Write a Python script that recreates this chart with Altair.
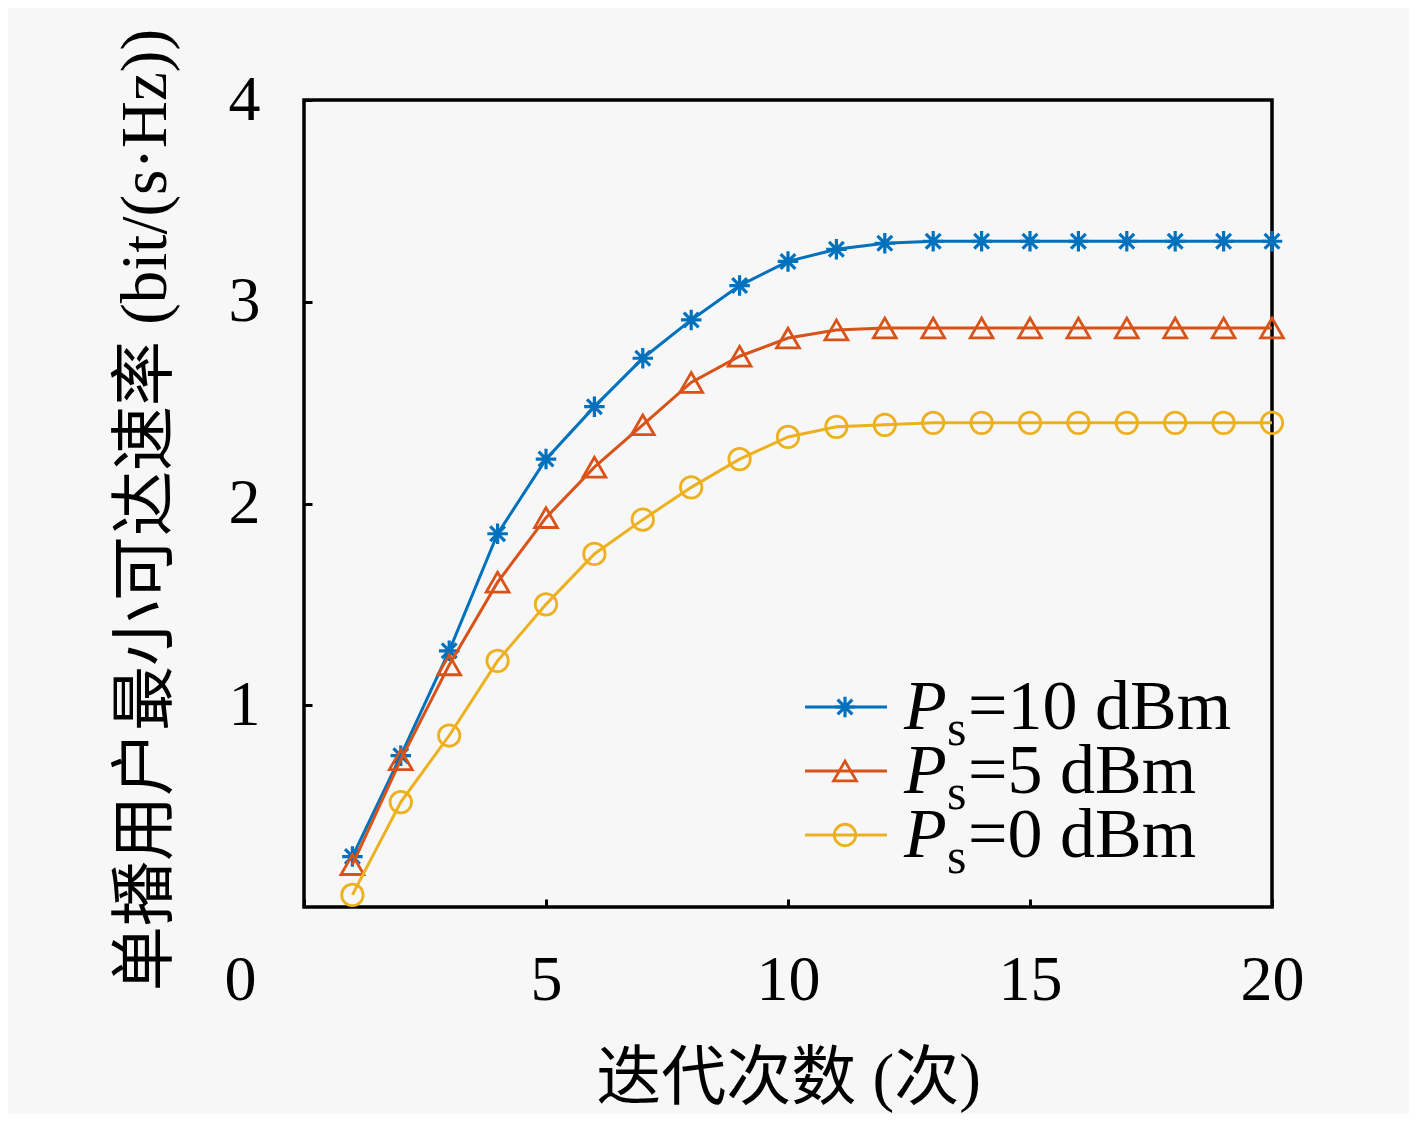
import altair as alt
import pandas as pd

# ---------------- data ----------------
iterations = list(range(1, 21))
series_names = ["Ps=10 dBm", "Ps=5 dBm", "Ps=0 dBm"]
legend_values = ["=10 dBm", "=5 dBm", "=0 dBm"]

rate_ps10 = [0.25, 0.75, 1.27, 1.85, 2.22, 2.48, 2.72, 2.91, 3.08, 3.20,
             3.26, 3.29, 3.30, 3.30, 3.30, 3.30, 3.30, 3.30, 3.30, 3.30]
rate_ps5 = [0.21, 0.73, 1.20, 1.61, 1.93, 2.18, 2.39, 2.60, 2.73, 2.82,
            2.86, 2.87, 2.87, 2.87, 2.87, 2.87, 2.87, 2.87, 2.87, 2.87]
rate_ps0 = [0.06, 0.52, 0.85, 1.22, 1.50, 1.75, 1.92, 2.08, 2.22, 2.33,
            2.38, 2.39, 2.40, 2.40, 2.40, 2.40, 2.40, 2.40, 2.40, 2.40]

x_ticks = [0, 5, 10, 15, 20]
y_ticks = [1, 2, 3, 4]

# ---------------- styles ----------------
colors = ["#0072BD", "#D95319", "#EDB120"]
ASTERISK = "M -1 0 L 1 0 M 0 -1 L 0 1 M -0.72 -0.72 L 0.72 0.72 M -0.72 0.72 L 0.72 -0.72"
shapes = [ASTERISK, "triangle-up", "circle"]
sizes = [420, 520, 460]
stroke_w = [3.2, 2.8, 2.8]

SERIF = "Liberation Serif"
CJK = "Liberation Serif, Noto Sans CJK SC"

W, H = 968, 807

rows = []
for name, vals in zip(series_names, [rate_ps10, rate_ps5, rate_ps0]):
    for it, v in zip(iterations, vals):
        rows.append({"series": name, "iteration": it, "rate": v})
df = pd.DataFrame(rows)

legend_df = pd.DataFrame({"series": series_names, "value": legend_values})

x_axis = alt.Axis(
    values=x_ticks, tickSize=8, tickWidth=3, tickColor="black", offset=-8,
    domain=False, grid=False,
    labelFont=SERIF, labelFontSize=64, labelColor="black", labelPadding=73,
    labelBaseline="middle", labelFlush=False, labelOverlap=False,
    labelOffset={"condition": {"test": "datum.value == 0", "value": -64}, "value": 0},
    title="迭代次数 (次)", titleFont=CJK, titleFontSize=65, titleFontWeight="normal",
    titleColor="black", titleY=179, titleBaseline="middle",
)
y_axis = alt.Axis(
    values=y_ticks, tickSize=8, tickWidth=3, tickColor="black", offset=-8,
    domain=False, grid=False,
    labelFont=SERIF, labelFontSize=64, labelColor="black", labelPadding=44,
    labelBaseline="middle", labelFlush=False, labelOverlap=False,
    title="单播用户最小可达速率 (bit/(s·Hz))", titleFont=CJK, titleFontSize=65,
    titleFontWeight="normal", titleColor="black",
    titleX=-167, titleY=H / 2 + 6, titleAngle=-90, titleAlign="center", titleBaseline="middle",
)

x_enc = alt.X("iteration:Q", scale=alt.Scale(domain=[0, 20], nice=False), axis=x_axis)
y_enc = alt.Y("rate:Q", scale=alt.Scale(domain=[0, 4], nice=False), axis=y_axis)

data_layers = []
for name, c, shp, sz, sw in zip(series_names, colors, shapes, sizes, stroke_w):
    base = alt.Chart(df).transform_filter(alt.datum.series == name)
    data_layers.append(base.mark_line(color=c, strokeWidth=3).encode(x=x_enc, y=y_enc))
    data_layers.append(
        base.mark_point(shape=shp, size=sz, color=c, filled=False, strokeWidth=sw, opacity=1)
        .encode(x=x_enc, y=y_enc)
    )
data = alt.layer(*data_layers)

# ---------------- hand-built legend ----------------
y_leg = alt.Y(
    "series:N",
    scale=alt.Scale(type="point", domain=series_names, range=[607, 735], padding=0),
    axis=None,
)
leg_base = alt.Chart(legend_df)
legend_layers = []
for name, c, shp, sz, sw in zip(series_names, colors, shapes, sizes, stroke_w):
    b = leg_base.transform_filter(alt.datum.series == name)
    legend_layers.append(
        b.mark_rule(color=c, strokeWidth=3).encode(x=alt.value(501), x2=alt.value(583), y=y_leg)
    )
    legend_layers.append(
        b.mark_point(shape=shp, size=sz, color=c, filled=False, strokeWidth=sw, opacity=1)
        .encode(x=alt.value(541), y=y_leg)
    )
legend_layers.append(
    leg_base.mark_text(align="left", baseline="alphabetic", font=SERIF, fontSize=70,
                       fontStyle="italic", dy=22, color="black")
    .encode(x=alt.value(600), y=y_leg, text=alt.value("P"))
)
legend_layers.append(
    leg_base.mark_text(align="left", baseline="alphabetic", font=SERIF, fontSize=50,
                       dy=38, color="black")
    .encode(x=alt.value(643), y=y_leg, text=alt.value("s"))
)
legend_layers.append(
    leg_base.mark_text(align="left", baseline="alphabetic", font=SERIF, fontSize=70,
                       dy=22, color="black")
    .encode(x=alt.value(664), y=y_leg, text="value:N")
)
legend = alt.layer(*legend_layers)

chart = (
    alt.layer(data, legend)
    .resolve_scale(y="independent")
    .properties(
        width=W, height=H,
        autosize=alt.AutoSizeParams(type="none"),
        padding={"left": 296, "top": 92, "right": 137, "bottom": 207},
        background="#f7f7f7",
    )
    .configure_view(stroke="black", strokeWidth=3.5)
)

chart.save("out.html", embed_options={"renderer": "svg", "actions": False})
